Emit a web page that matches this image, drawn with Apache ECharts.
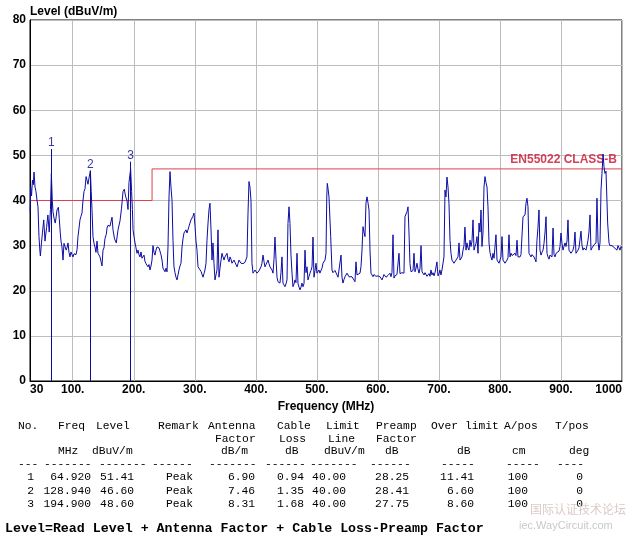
<!DOCTYPE html>
<html><head><meta charset="utf-8">
<script src="https://cdn.jsdelivr.net/npm/echarts@6/dist/echarts.min.js"></script>
<style>html,body{margin:0;padding:0;background:#fff}#c{width:633px;height:541px}</style>
</head><body><div id="c"></div>
<script>
// ---- axis ticks ----
const xTickValues = [30,100,200,300,400,500,600,700,800,900,1000];
const xTickLabels = ['30','100.','200.','300.','400.','500.','600.','700.','800.','900.','1000'];
const yMin = 0, yMax = 80, yStep = 10;
const xName = 'Frequency (MHz)';
const yName = 'Level (dBuV/m)';

// ---- limit line ----
const limitName = 'EN55022 CLASS-B';
const limitFreq  = [30, 230, 230, 1000];
const limitLevel = [40, 40, 47, 47];

// ---- markers / table ----
const markerNo      = [1, 2, 3];
const markerFreq    = [64.920, 128.940, 194.900];
const markerLevel   = [51.41, 46.60, 48.60];
const markerRemark  = ['Peak', 'Peak', 'Peak'];
const antennaFactor = [6.90, 7.46, 8.31];
const cableLoss     = [0.94, 1.35, 1.68];
const limitAtMarker = [40.00, 40.00, 40.00];
const preampFactor  = [28.25, 28.41, 27.75];
const overLimit     = [11.41, 6.60, 8.60];
const aPos          = [100, 100, 100];
const tPos          = [0, 0, 0];
const formulaText   = 'Level=Read Level + Antenna Factor + Cable Loss-Preamp Factor';

// ---- measured trace ----
const traceFreq = [
30.3,31.1,32.5,34.0,35.5,36.6,38.2,39.8,41.5,43.1,
44.7,46.4,47.0,48.8,50.5,52.5,54.6,55.4,57.2,59.3,
61.5,63.5,65.0,66.5,67.7,69.5,71.4,73.0,74.2,76.5,
78.0,79.5,80.8,82.4,84.1,85.7,87.3,89.3,90.6,92.3,
93.9,95.5,97.2,98.8,100.5,102.1,103.7,105.4,107.2,108.6,
110.0,111.9,113.5,115.2,116.8,118.5,120.1,121.9,123.4,125.0,
126.7,128.9,130.3,131.6,133.2,134.9,136.5,138.1,139.8,141.4,
143.0,144.7,146.3,148.0,149.6,151.2,152.9,155.0,156.2,157.8,
159.5,161.1,162.7,164.4,166.0,168.5,171.4,174.2,177.5,180.0,
182.4,184.5,186.5,188.9,190.6,192.2,194.9,196.5,197.8,198.8,
200.4,202.1,203.7,205.3,207.0,208.6,210.2,211.9,213.5,215.2,
216.8,218.4,220.1,221.7,223.3,225.0,226.6,228.3,229.9,231.5,
233.2,234.8,236.4,238.1,239.7,241.4,243.0,244.6,246.3,247.9,
249.6,251.2,252.8,254.5,256.1,257.8,259.4,261.0,262.7,264.3,
265.9,267.6,269.2,270.9,272.5,274.1,275.8,277.4,279.1,280.7,
282.3,284.0,285.6,287.2,288.9,290.5,292.1,293.8,295.4,297.0,
298.7,300.4,302.0,303.6,305.3,306.9,308.5,310.2,311.8,313.5,
315.1,316.7,318.4,320.0,321.7,323.3,324.9,326.6,328.2,329.8,
331.5,333.1,334.7,336.4,338.0,339.7,341.3,343.0,344.6,346.2,
347.9,349.5,351.1,352.8,354.4,356.1,357.7,359.3,361.0,362.6,
364.3,365.9,367.5,369.2,370.8,372.4,374.1,375.7,377.4,379.0,
380.6,382.3,383.9,385.5,387.2,388.8,390.4,392.1,393.7,395.4,
397.0,398.7,400.3,401.9,403.6,405.2,406.9,408.5,410.1,411.8,
413.4,415.0,416.7,418.3,420.0,421.6,423.2,424.9,426.5,428.2,
429.8,431.4,433.1,434.7,436.3,438.0,439.6,441.2,442.9,444.5,
446.1,447.8,449.4,451.1,452.7,454.4,456.0,457.6,459.3,460.9,
462.6,464.2,465.8,467.5,469.1,470.8,472.4,474.0,475.7,477.3,
479.0,480.6,482.2,483.9,485.5,487.2,488.8,490.4,492.1,493.7,
495.3,497.0,498.6,500.2,501.9,503.5,505.0,506.8,508.4,510.1,
511.7,513.4,515.0,516.3,517.1,518.5,519.9,522.7,524.8,526.4,
528.1,529.7,531.4,533.0,534.7,536.3,537.9,539.6,541.2,542.8,
544.5,546.1,547.7,549.4,551.0,552.7,554.3,555.9,557.6,559.2,
560.8,562.5,564.1,565.8,567.4,569.0,570.7,572.3,574.0,575.6,
577.2,578.9,580.5,582.2,583.8,585.5,587.1,588.7,590.4,592.0,
593.6,595.3,596.9,598.6,600.2,601.8,603.5,605.1,606.8,608.4,
610.0,611.7,613.3,614.9,616.6,618.2,619.9,621.5,623.1,624.8,
626.4,628.0,629.7,631.3,633.0,634.6,636.2,637.9,639.5,641.2,
642.8,644.4,646.1,647.7,649.4,651.0,652.6,654.3,655.9,657.6,
659.2,660.8,662.5,664.1,665.7,667.4,669.0,670.7,672.3,674.0,
675.6,677.2,678.8,680.5,682.1,683.8,685.4,687.0,688.7,690.3,
692.0,693.6,695.2,696.8,698.5,700.1,701.7,703.4,705.0,706.7,
708.3,710.0,711.6,713.2,714.9,716.5,718.2,719.8,721.4,723.1,
724.7,726.3,728.0,729.6,731.3,732.9,734.6,736.2,737.8,739.5,
741.1,742.7,744.4,746.0,747.6,749.3,750.9,752.6,754.2,755.9,
757.5,759.1,760.8,762.4,764.1,765.7,767.3,769.0,770.6,772.2,
773.9,775.5,777.1,778.8,780.4,782.1,783.7,785.3,787.0,788.6,
790.3,791.9,793.5,795.2,796.8,798.5,800.1,801.7,803.4,805.0,
806.6,808.3,810.0,811.6,813.2,814.8,816.5,818.1,819.8,821.4,
823.0,824.7,826.3,828.0,829.6,831.2,832.9,834.5,836.1,837.8,
839.4,841.1,842.7,844.3,846.0,847.6,849.3,850.9,852.5,854.2,
855.8,857.4,859.1,860.7,862.3,864.0,865.6,867.3,868.9,870.6,
872.2,873.8,875.5,877.1,878.8,880.4,882.0,883.7,885.3,887.0,
888.6,890.2,891.9,893.5,895.1,896.8,898.4,900.0,901.7,903.3,
904.9,906.6,908.2,909.9,911.5,913.1,914.8,916.4,918.0,919.7,
921.3,923.0,924.6,926.2,927.9,929.5,931.2,932.8,934.5,936.1,
937.7,939.4,941.0,942.7,944.3,945.9,947.6,949.2,950.9,952.5,
954.1,955.8,957.4,959.0,960.7,962.3,964.0,965.6,967.2,969.0,
970.5,972.1,973.8,975.4,976.5,978.7,980.3,982.0,983.6,985.2,
986.9,988.5,990.1,991.8,993.4,995.1,996.7,998.4,1000.0
];
const traceLevel = [
37.5,43,41,44.5,43.5,46.3,43,42,40,38.6,
32,28.5,27.7,30.6,33,35.7,31,30.6,34,36.8,
33,38,46,40,37.5,36,35,36.5,37.9,38.5,
36,33,31,29.7,26.8,30.5,30.8,29,29.5,30.6,
28.5,27.5,28.6,28,27.5,28.2,28.6,28,29.2,32,
33.5,35.7,36.5,37.2,40,42,42.6,45.3,44.5,43.6,
45,46.6,42,38,32,30.5,29.7,28.5,31,28.3,
28,27.5,26.5,25.5,29,29.5,31.6,32.5,33.9,34.5,
34.3,34.3,35.3,36.3,33.5,31.5,30.6,33.5,35.5,38.3,
42,42.5,41,40,38,44,47,42,38,33.5,
32,30.6,29.5,28.3,29,28,27.5,28.6,27.2,26.8,
27.9,26.5,26,25.7,25.3,25.8,24.6,25.5,26.8,30,
28.5,27.9,29,29.7,30,29.5,29.3,28,26.8,25,
24.6,24.2,25,24.2,29.7,40.8,46.4,43,40,31.2,
25.3,24,23,22.4,23.5,24.6,25.5,26.1,29.7,31.5,
32.8,33.2,33.5,32.8,33.5,34.3,35,35.7,36,36.5,
37.2,34.3,31,29,25.3,25,25,24.3,23.9,23,
23.8,24.6,26.1,31.2,35,38,39.4,33.5,26.8,30.6,
26,22.4,23.5,24.6,33.5,23,25,26.8,28.3,27.5,
26.8,27.5,27.9,28.3,27,26.4,27.5,27,26.1,26.5,
26.8,26.3,26.1,25.3,26,26.8,26.5,26.1,25.7,26,
26.4,26.3,26.1,27.5,37.2,44.2,43,40,26.1,23.9,
24.3,24.6,24.2,23.9,24.2,24.4,24.6,25.3,26.1,27.9,
26.5,25.3,25.8,26.1,26.8,26,25.3,25,24.6,23.9,
27,31.9,27,23,22,21.8,21.7,24,27.5,21.7,
21.3,20.9,21.5,22.4,34.9,38.6,34.9,28,23.9,20.9,
21.5,22.4,21.8,28.3,21.6,20.8,20.2,20.8,21.7,20.9,
21.6,29,24,25.3,22.4,23.2,23.9,24.5,25.3,31.9,
23,24.5,26.1,23.9,24.2,24.6,23.9,23.9,25,26.1,
26.5,26.8,28.3,41,43.8,42.5,40.8,32,24.6,24,
23.9,24.5,24.2,23.5,23,22.8,23.1,27.9,23,21.7,
22.5,23.1,23.5,23.9,23.5,23.1,23.5,23.5,23.1,22.8,
23.4,22,26.4,23.5,23.1,23.5,23.9,25.3,29,34.2,
33,32,39.4,40.8,39.5,37.9,29,23.9,23.5,23.1,
23.6,23.5,23.2,22.8,23.3,23.6,23.1,22.8,22.4,23,
23.6,23.5,23,22.8,23.4,23.7,23.9,23.1,24,32.4,
22.8,23.3,23.1,23.6,23.9,28.3,23.8,23.5,24,24.2,
23.9,36.4,37,37.5,38.6,32.8,26,24.2,23.9,24.5,
28.3,24.2,25,26.1,24.8,23.9,25,30,24.2,23.8,
23.5,24,23.9,23.2,23.5,23.8,23.2,24.6,23.5,24,
23.3,24,24.4,26.4,23.3,23.8,24.6,23.5,24.6,24.6,
27.5,42.3,40.8,45.2,43,39.4,31.2,28.3,26.8,27.2,
26.1,26.5,26.8,26.8,27.5,30.6,26.8,27,27.5,29,
30,34.1,29,30.6,29.5,29,31.2,29.8,31,35.7,
29,29.8,30.5,32,28.3,35,33,37.9,29.8,32.8,
43,45.3,44,43,38.6,30.6,28.5,27.5,26.8,28.3,
27.2,26.8,32.4,26.8,26.5,26.1,26.8,27.5,32,26.8,
26.5,26.1,26.5,26.8,27.3,32.4,27.5,28.3,27.8,27.5,
28,28.3,27.8,31.2,27.5,27.8,27.5,28,28.3,36.4,
36,36.8,39.4,40.5,38.6,28.3,28.3,27.5,28,28.3,
27.5,27,26.4,31.2,34,37.9,29,27.9,28.5,29,
30.5,32.8,36.4,28.3,27.5,27,27.9,27.8,27.5,33.9,
28,27.5,28.3,28.2,27.9,28.8,29.8,32.8,30.5,29,
29.8,30.6,29.8,31,35.7,29,28.6,28.3,28.7,29,
30,33,28.3,28.7,29,29.5,29.8,33.2,30,29,
29.5,29.8,29,30,31.2,33,36.8,29,29.5,29.8,
30.2,30.6,30.6,40.5,31,29,30.6,42.3,46,50.3,
47.5,46,46.5,46.8,35,30.6,30,29.8,30,29.8,
29.6,29.4,29.5,29,30,29.5,29,29.8,29.5
];

const FONT_AX = 'Liberation Sans, Arial, sans-serif';
const MONO = '"Liberation Mono", "DejaVu Sans Mono", monospace';

const traceData = traceFreq.map((f, i) => [f, traceLevel[i]]);
const limitData = limitFreq.map((f, i) => [f, limitLevel[i]]);

// ---- table graphic ----
function txt(x, y, text, align, font) {
  return { type: 'text', x: x, y: y, silent: true,
    style: { text: text, align: align || 'left', verticalAlign: 'middle',
      font: font || ('11.3px ' + MONO), fill: '#000' } };
}
const headRow1 = [['No.',18],['Freq',58],['Level',96],['Remark',158],['Antenna',208],['Cable',277],['Limit',326],['Preamp',376],['Over limit',431],['A/pos',504],['T/pos',555]];
const headRow2 = [['Factor',215],['Loss',279],['Line',328],['Factor',376]];
const unitRow  = [['MHz',58],['dBuV/m',92],['dB/m',221],['dB',285],['dBuV/m',324],['dB',385],['dB',457],['cm',512],['deg',569]];
const dashRow  = [[3,18],[7,44],[7,99],[6,152],[7,209],[6,265],[7,310],[6,370],[5,441],[5,506],[4,557]];
const rowY = [477, 491, 504];
const g = [];
headRow1.forEach(h => g.push(txt(h[1], 426, h[0])));
headRow2.forEach(h => g.push(txt(h[1], 439, h[0])));
unitRow.forEach(h => g.push(txt(h[1], 451, h[0])));
dashRow.forEach(d => g.push(txt(d[1], 464, '-'.repeat(d[0]))));
markerNo.forEach((n, i) => {
  const y = rowY[i];
  g.push(txt(34, y, String(n), 'right'));
  g.push(txt(91, y, markerFreq[i].toFixed(3), 'right'));
  g.push(txt(134, y, markerLevel[i].toFixed(2), 'right'));
  g.push(txt(166, y, markerRemark[i], 'left'));
  g.push(txt(255, y, antennaFactor[i].toFixed(2), 'right'));
  g.push(txt(304, y, cableLoss[i].toFixed(2), 'right'));
  g.push(txt(346, y, limitAtMarker[i].toFixed(2), 'right'));
  g.push(txt(409, y, preampFactor[i].toFixed(2), 'right'));
  g.push(txt(474, y, overLimit[i].toFixed(2), 'right'));
  g.push(txt(528, y, String(aPos[i]), 'right'));
  g.push(txt(583, y, String(tPos[i]), 'right'));
});
g.push(txt(5, 529, formulaText, 'left', 'bold 13.3px ' + MONO));
// faint watermark
g.push({ type: 'text', x: 530, y: 509, silent: true, style: { text: '国际认证技术论坛', align: 'left', verticalAlign: 'middle', font: '12px "Noto Sans CJK SC"', fill: '#dcc9c9' } });
g.push({ type: 'text', x: 519, y: 526, silent: true, style: { text: 'iec.WayCircuit.com', align: 'left', verticalAlign: 'middle', font: '11px ' + FONT_AX, fill: '#c9c9c9' } });

const chart = echarts.init(document.getElementById('c'));
chart.setOption({
  animation: false,
  backgroundColor: '#fff',
  grid: { left: 30, right: 11, top: 20, bottom: 160, show: true, borderColor: '#000', borderWidth: 1, backgroundColor: 'transparent' },
  xAxis: {
    type: 'value', min: 30, max: 1000,
    name: xName, nameLocation: 'middle', nameGap: 16,
    nameTextStyle: { fontWeight: 'bold', fontSize: 12, fontFamily: FONT_AX, color: '#000', verticalAlign: 'top' },
    axisLine: { show: true, lineStyle: { color: '#000', width: 1 } },
    axisTick: { show: false, customValues: xTickValues },
    axisLabel: { customValues: xTickValues, margin: 3, fontWeight: 'bold', fontSize: 12, fontFamily: FONT_AX, color: '#000',
      alignMinLabel: 'left', alignMaxLabel: 'right', showMinLabel: true, showMaxLabel: true,
      formatter: v => { const k = xTickValues.indexOf(Math.round(v)); return k >= 0 ? xTickLabels[k] : ''; } },
    splitLine: { show: true, lineStyle: { color: '#bdbdbd', width: 1 } }
  },
  yAxis: {
    type: 'value', min: yMin, max: yMax, interval: yStep,
    name: yName, nameLocation: 'end', nameGap: 8, nameMoveOverlap: false,
    nameTextStyle: { fontWeight: 'bold', fontSize: 12, fontFamily: FONT_AX, color: '#000', align: 'left', verticalAlign: 'middle' },
    axisLine: { show: true, lineStyle: { color: '#000', width: 1 } },
    axisTick: { show: false },
    axisLabel: { margin: 4, fontWeight: 'bold', fontSize: 12, fontFamily: FONT_AX, color: '#000' },
    splitLine: { show: true, lineStyle: { color: '#bdbdbd', width: 1 } }
  },
  series: [
    { name: limitName, type: 'line', data: limitData, showSymbol: false, symbol: 'none', z: 2,
      lineStyle: { color: '#e0404c', width: 1 } },
    { name: 'trace', type: 'line', data: traceData, showSymbol: false, symbol: 'none', z: 3,
      lineStyle: { color: '#0c0ca6', width: 1 },
      markLine: {
        silent: true, symbol: ['none', 'none'], animation: false,
        lineStyle: { color: '#0c0c96', width: 1, type: 'solid' },
        label: { show: true, position: 'end', distance: 0, formatter: '{b}', color: '#3838a8', fontSize: 12, fontFamily: FONT_AX },
        data: markerFreq.map((f, i) => [ { name: String(markerNo[i]), coord: [f, 0] }, { coord: [f, markerLevel[i]] } ])
      } },
    { name: 'limitLabel', type: 'scatter', data: [[limitFreq[limitFreq.length - 1], limitLevel[limitLevel.length - 1]]],
      symbolSize: 1, itemStyle: { color: 'rgba(0,0,0,0)' }, z: 1, silent: true,
      label: { show: true, position: 'top', align: 'right', distance: 3, offset: [-5, 0], formatter: limitName,
        color: '#c8102e', fontWeight: 'bold', fontSize: 12, fontFamily: FONT_AX } }
  ],
  graphic: g
});
</script>
</body></html>
